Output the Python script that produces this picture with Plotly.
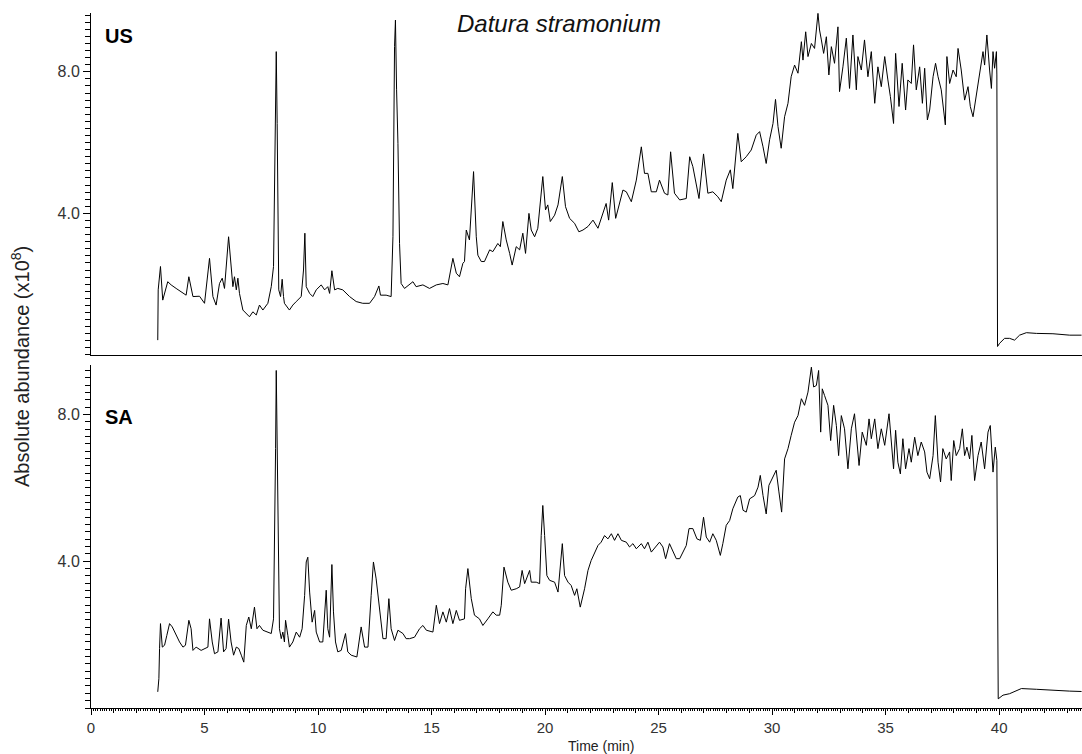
import plotly.graph_objects as go

# ---------------- data ----------------
US_time = [2.94, 2.96, 3.06, 3.16, 3.38, 3.53, 3.75, 4.05, 4.19, 4.31, 4.49, 4.78, 5.00, 5.22, 5.37, 5.51,
           5.66, 5.78, 5.88, 6.06, 6.17, 6.25, 6.32, 6.40, 6.47, 6.54, 6.69, 6.98, 7.13, 7.28, 7.42, 7.57,
           7.79, 7.94, 8.04, 8.08, 8.13, 8.16, 8.20, 8.23, 8.27, 8.35, 8.42, 8.48, 8.52, 8.74, 8.89, 9.04,
           9.26, 9.36, 9.42, 9.48, 9.63, 9.77, 9.92, 10.14, 10.29, 10.43, 10.51, 10.61, 10.73, 10.87, 11.09,
           11.39, 11.68, 11.97, 12.27, 12.49, 12.68, 12.75, 13.00, 13.22, 13.30, 13.37, 13.41, 13.46, 13.52,
           13.59, 13.66, 13.81, 14.03, 14.18, 14.32, 14.62, 14.91, 15.21, 15.50, 15.72, 15.94, 16.09, 16.23,
           16.38, 16.45, 16.53, 16.67, 16.85, 16.97, 17.04, 17.19, 17.33, 17.56, 17.70, 17.92, 18.03, 18.14,
           18.29, 18.44, 18.55, 18.73, 18.88, 19.02, 19.14, 19.29, 19.39, 19.54, 19.68, 19.90, 20.02, 20.12,
           20.23, 20.42, 20.57, 20.76, 20.90, 21.08, 21.30, 21.49, 21.67, 21.89, 22.11, 22.33, 22.55, 22.69,
           22.80, 22.96, 23.11, 23.25, 23.43, 23.58, 23.80, 24.02, 24.24, 24.38, 24.53, 24.68, 24.90, 25.04,
           25.26, 25.41, 25.53, 25.70, 25.93, 26.22, 26.37, 26.51, 26.78, 26.98, 27.17, 27.39, 27.61, 27.76,
           27.98, 28.16, 28.27, 28.49, 28.64, 28.86, 29.08, 29.30, 29.45, 29.60, 29.74, 29.89, 30.04, 30.15,
           30.26, 30.40, 30.55, 30.70, 30.84, 30.99, 31.14, 31.29, 31.36, 31.48, 31.58, 31.73, 31.87, 32.02,
           32.09, 32.17, 32.27, 32.39, 32.50, 32.61, 32.75, 32.90, 32.97, 33.12, 33.27, 33.41, 33.56, 33.71,
           33.78, 33.93, 34.07, 34.22, 34.37, 34.52, 34.66, 34.81, 34.96, 35.10, 35.21, 35.35, 35.44, 35.59,
           35.73, 35.88, 35.98, 36.13, 36.23, 36.35, 36.50, 36.62, 36.72, 36.84, 36.94, 37.09, 37.20, 37.31,
           37.45, 37.63, 37.70, 37.82, 37.97, 38.11, 38.19, 38.33, 38.48, 38.63, 38.73, 38.85, 38.99, 39.14,
           39.29, 39.36, 39.46, 39.58, 39.66, 39.73, 39.80, 39.88, 39.90, 39.93, 40.02, 40.24, 40.46, 40.68,
           40.90, 41.20, 41.64, 42.37, 43.11, 43.63]
US_abund = [0.42, 1.84, 2.50, 1.55, 2.07, 1.98, 1.88, 1.74, 1.69, 2.21, 1.65, 1.66, 1.46, 2.73, 1.65, 1.41,
            2.02, 2.17, 1.88, 3.34, 2.59, 1.93, 2.21, 1.84, 2.17, 1.74, 1.27, 1.08, 1.22, 1.13, 1.41, 1.27,
            1.46, 1.93, 2.50, 4.19, 6.54, 8.57, 6.54, 4.19, 1.84, 1.65, 2.14, 1.65, 1.46, 1.27, 1.41, 1.51,
            1.65, 2.40, 3.44, 1.93, 1.74, 1.65, 1.84, 1.98, 1.84, 1.93, 1.74, 2.38, 1.84, 1.88, 1.84,
            1.65, 1.51, 1.46, 1.46, 1.65, 1.95, 1.69, 1.69, 1.65, 3.34, 8.71, 9.46, 7.49, 5.98,
            3.15, 2.02, 1.88, 1.98, 2.07, 1.93, 1.98, 1.88, 1.98, 2.02, 1.98, 2.73, 2.31, 2.21,
            2.59, 2.64, 3.53, 3.25, 5.18, 3.34, 2.82, 2.64, 2.64, 2.97, 2.92, 3.15, 3.06, 3.77,
            3.25, 2.87, 2.54, 3.06, 2.97, 3.44, 2.87, 4.00, 3.53, 3.34, 3.58, 5.04, 4.10, 4.24,
            3.77, 3.95, 4.24, 5.04, 4.19, 3.86, 3.72, 3.48, 3.53, 3.63, 3.81, 3.58, 4.00, 4.28,
            3.81, 4.87, 3.86, 4.19, 4.66, 4.61, 4.33, 4.94, 5.88, 5.13, 5.13, 4.61, 4.61, 4.94,
            4.57, 4.52, 5.74, 4.57, 4.38, 4.42, 5.60, 5.32, 4.42, 5.68, 4.57, 4.61, 4.47, 4.33,
            4.94, 5.23, 4.70, 6.26, 5.46, 5.60, 5.79, 6.21, 6.31, 5.88, 5.41, 6.08, 6.54, 7.22,
            6.45, 5.84, 6.73, 7.11, 7.86, 8.19, 7.96, 8.85, 8.33, 9.13, 8.43, 8.80, 8.66, 9.65,
            9.18, 8.90, 8.52, 8.99, 7.91, 8.71, 8.24, 9.27, 7.44, 8.14, 8.95, 7.53, 9.04, 7.49,
            8.43, 8.05, 8.90, 7.86, 8.57, 7.11, 8.14, 7.58, 8.43, 7.77, 7.30, 6.54, 8.52, 7.02,
            8.24, 6.92, 7.77, 7.67, 8.76, 7.49, 8.14, 7.11, 8.10, 6.64, 6.92, 7.86, 8.24, 7.86,
            7.49, 6.50, 8.43, 7.67, 8.05, 7.86, 8.66, 8.05, 7.20, 7.58, 7.02, 6.73, 7.30, 7.96,
            8.57, 8.19, 9.04, 8.05, 7.53, 8.57, 8.10, 8.57, 7.91, 0.24, 0.33, 0.47, 0.47, 0.42,
            0.56, 0.63, 0.61, 0.60, 0.56, 0.56]

SA_time = [2.94, 2.99, 3.02, 3.06, 3.14, 3.24, 3.34, 3.46, 3.58, 3.75, 3.90, 4.05, 4.16, 4.31, 4.41, 4.49,
           4.63, 4.85, 5.07, 5.15, 5.22, 5.34, 5.44, 5.59, 5.73, 5.84, 5.95, 6.06, 6.17, 6.28, 6.40, 6.51,
           6.62, 6.73, 6.84, 6.95, 7.06, 7.20, 7.31, 7.42, 7.57, 7.79, 7.94, 8.04, 8.08, 8.13, 8.16, 8.20,
           8.25, 8.30, 8.38, 8.45, 8.52, 8.57, 8.67, 8.74, 8.89, 9.04, 9.19, 9.30, 9.41, 9.48, 9.55, 9.63,
           9.74, 9.85, 9.92, 10.07, 10.21, 10.29, 10.36, 10.43, 10.51, 10.61, 10.68, 10.77, 10.87, 11.02,
           11.09, 11.21, 11.31, 11.46, 11.71, 11.90, 12.05, 12.20, 12.34, 12.44, 12.56, 12.71, 12.86, 13.00,
           13.12, 13.22, 13.37, 13.52, 13.74, 13.88, 14.03, 14.25, 14.47, 14.62, 14.77, 15.06, 15.21, 15.35,
           15.50, 15.65, 15.79, 15.94, 16.09, 16.23, 16.45, 16.50, 16.60, 16.75, 16.89, 17.11, 17.26, 17.48,
           17.70, 17.85, 18.00, 18.07, 18.19, 18.36, 18.51, 18.73, 18.88, 18.99, 19.10, 19.32, 19.39, 19.61,
           19.76, 19.83, 19.90, 19.98, 20.08, 20.20, 20.42, 20.57, 20.67, 20.76, 20.86, 21.01, 21.15, 21.30,
           21.40, 21.55, 21.74, 21.89, 22.03, 22.18, 22.33, 22.47, 22.62, 22.77, 22.92, 23.06, 23.21, 23.36,
           23.58, 23.72, 23.87, 24.02, 24.24, 24.38, 24.53, 24.68, 24.90, 25.04, 25.19, 25.31, 25.48, 25.63,
           25.78, 25.93, 26.07, 26.22, 26.34, 26.51, 26.69, 26.84, 26.98, 27.10, 27.25, 27.39, 27.54, 27.72,
           27.83, 27.98, 28.13, 28.27, 28.49, 28.60, 28.72, 28.86, 29.01, 29.23, 29.38, 29.48, 29.60, 29.74,
           29.86, 30.01, 30.18, 30.30, 30.42, 30.55, 30.70, 30.84, 30.99, 31.14, 31.29, 31.43, 31.58, 31.73,
           31.83, 31.95, 32.05, 32.14, 32.21, 32.31, 32.46, 32.58, 32.71, 32.83, 32.93, 33.05, 33.19, 33.34,
           33.49, 33.63, 33.74, 33.83, 33.97, 34.15, 34.27, 34.37, 34.52, 34.66, 34.81, 34.96, 35.15, 35.25,
           35.35, 35.44, 35.54, 35.65, 35.76, 35.88, 36.03, 36.13, 36.28, 36.42, 36.57, 36.72, 36.82, 36.94,
           37.09, 37.19, 37.31, 37.42, 37.52, 37.67, 37.82, 37.89, 38.00, 38.11, 38.26, 38.38, 38.48, 38.58,
           38.70, 38.80, 38.92, 39.07, 39.21, 39.36, 39.51, 39.61, 39.73, 39.83, 39.90, 39.96, 40.17, 40.46,
           40.76, 40.98, 41.64, 42.37, 43.11, 43.63]
SA_abund = [0.44, 0.80, 1.62, 2.30, 1.66, 1.71, 1.98, 2.30, 2.21, 1.98, 1.80, 1.66, 1.71, 2.39, 2.16, 1.57,
            1.66, 1.57, 1.62, 1.66, 2.43, 1.80, 1.48, 1.53, 2.45, 1.53, 1.62, 2.42, 1.80, 1.44, 1.66, 1.62,
            1.44, 1.25, 2.25, 2.48, 2.16, 2.75, 2.16, 2.25, 2.12, 2.07, 2.03, 2.43, 3.98, 7.07, 9.20, 6.70,
            4.07, 2.16, 1.89, 2.07, 1.80, 2.39, 1.98, 1.66, 1.80, 2.07, 1.93, 2.16, 3.07, 3.98, 4.11, 3.16,
            2.34, 2.66, 2.07, 1.80, 1.80, 2.53, 3.21, 2.16, 1.93, 3.91, 2.62, 1.80, 1.53, 1.57,
            1.75, 2.03, 1.53, 1.44, 1.39, 2.21, 1.66, 1.66, 3.07, 3.98, 3.52, 2.62, 1.89, 1.89,
            2.98, 2.16, 1.84, 2.12, 2.03, 1.89, 1.89, 1.93, 2.16, 2.25, 2.12, 2.07, 2.80, 2.30,
            2.62, 2.34, 2.71, 2.30, 2.66, 2.39, 2.43, 3.25, 3.80, 2.98, 2.53, 2.43, 2.25, 2.43,
            2.62, 2.53, 2.53, 2.80, 3.84, 3.43, 3.21, 3.25, 3.30, 3.75, 3.39, 3.75, 3.43, 3.43,
            3.39, 4.70, 5.52, 4.70, 3.61, 3.48, 3.43, 3.16, 3.98, 4.48, 3.61, 3.43, 3.34, 3.07,
            3.25, 2.75, 3.25, 3.75, 4.02, 4.21, 4.43, 4.52, 4.70, 4.61, 4.75, 4.57, 4.75, 4.57,
            4.52, 4.39, 4.48, 4.34, 4.48, 4.34, 4.52, 4.25, 4.43, 4.52, 4.39, 4.07, 4.48, 4.25,
            4.07, 4.07, 4.25, 4.43, 4.89, 4.89, 4.61, 4.57, 5.20, 4.66, 4.52, 4.75, 4.57, 4.16,
            4.48, 4.98, 5.11, 5.43, 5.75, 5.79, 5.39, 5.34, 5.70, 5.79, 6.02, 6.34, 5.79, 5.29,
            6.07, 6.25, 6.48, 5.89, 5.34, 6.79, 7.07, 7.43, 7.79, 7.97, 8.43, 8.25, 8.61, 9.29,
            8.75, 8.79, 9.20, 7.52, 8.70, 8.52, 8.25, 7.29, 8.25, 7.70, 6.88, 7.97, 7.61, 6.52,
            7.61, 8.02, 7.34, 6.61, 7.52, 7.16, 7.88, 7.34, 7.88, 7.07, 7.61, 7.16, 8.02, 7.16,
            6.52, 7.57, 6.70, 6.38, 7.34, 6.52, 7.07, 6.70, 7.38, 6.88, 7.25, 6.98, 6.43, 6.25,
            6.88, 7.97, 6.70, 6.16, 7.07, 6.79, 6.98, 6.20, 7.29, 6.88, 7.07, 7.61, 6.88, 7.11,
            6.79, 7.43, 6.20, 6.88, 7.25, 6.52, 7.52, 7.70, 6.43, 7.11, 6.75, 0.25, 0.35, 0.39,
            0.48, 0.53, 0.51, 0.48, 0.46, 0.45]

X_MAX = 43.65
US_YMAX = 9.66
SA_YMAX = 9.35
y_tick_vals = [4.0, 8.0]
y_tick_text = ["4.0", "8.0"]

FONT = "Liberation Sans, Arial, sans-serif"

fig = go.Figure()
fig.add_trace(go.Scatter(x=US_time, y=US_abund, xaxis="x", yaxis="y", mode="lines",
                         line=dict(color="black", width=1), hoverinfo="skip", showlegend=False))
fig.add_trace(go.Scatter(x=SA_time, y=SA_abund, xaxis="x2", yaxis="y2", mode="lines",
                         line=dict(color="black", width=1), hoverinfo="skip", showlegend=False))
# carrier for the fine (0.1 min) tick axis of the bottom panel
fig.add_trace(go.Scatter(x=[], y=[], xaxis="x3", yaxis="y2", mode="lines",
                         hoverinfo="skip", showlegend=False))

def y_axis(domain, anchor, ymax):
    return dict(domain=domain, anchor=anchor, range=[0, ymax], showline=True, linecolor="black",
                linewidth=1, ticks="outside", ticklen=7, tickwidth=1, tickcolor="black",
                tickmode="array", tickvals=y_tick_vals, ticktext=y_tick_text,
                tickfont=dict(family=FONT, size=16, color="#333333"),
                showgrid=False, zeroline=False,
                minor=dict(tickmode="linear", tick0=0, dtick=0.2, ticks="outside", ticklen=5,
                           tickwidth=1, tickcolor="black", showgrid=False))

fig.update_layout(
    width=1082, height=754,
    margin=dict(l=91, r=0, t=0, b=46),
    paper_bgcolor="white", plot_bgcolor="white",
    font=dict(family=FONT, color="black"),
    xaxis=dict(domain=[0, 1], anchor="y", range=[0, X_MAX], showline=True, linecolor="black",
               linewidth=1, ticks="", showticklabels=False, showgrid=False, zeroline=False),
    yaxis=y_axis([0.4986, 0.9816], "x", US_YMAX),
    xaxis2=dict(domain=[0, 1], anchor="y2", range=[0, X_MAX], showline=True, linecolor="black",
                linewidth=1, ticks="outside", ticklen=6, tickwidth=1, tickcolor="black",
                tickmode="linear", tick0=0, dtick=5,
                tickfont=dict(family=FONT, size=15, color="#333333"),
                showgrid=False, zeroline=False,
                minor=dict(tickmode="linear", tick0=0, dtick=1, ticks="outside", ticklen=4,
                           tickwidth=1, tickcolor="black", showgrid=False)),
    xaxis3=dict(overlaying="x2", anchor="y2", side="bottom", range=[0, X_MAX], showline=False,
                ticks="outside", ticklen=2, tickwidth=1, tickcolor="black",
                tickmode="linear", tick0=0, dtick=0.1, showticklabels=False,
                showgrid=False, zeroline=False),
    yaxis2=y_axis([0, 0.4845], "x2", SA_YMAX),
)

annotations = [
    dict(text="<i>Datura stramonium</i>", x=0.4723, y=0.9675, font=dict(size=24, color="#111111")),
    dict(text="<b>US</b>", x=0.0121, y=0.949, xanchor="left", font=dict(size=20, color="black")),
    dict(text="<b>SA</b>", x=0.0121, y=0.4117, xanchor="left", font=dict(size=20, color="black")),
    dict(text="Time (min)", x=0.515, y=-0.0532, font=dict(size=14, color="#222222")),
    dict(text="Absolute abundance (x10<sup>8</sup>)", x=-0.0716, y=0.4816, textangle=-90,
         font=dict(size=20, color="#222222")),
]
for a in annotations:
    a.setdefault("xanchor", "center")
    a.update(xref="paper", yref="paper", yanchor="middle", showarrow=False)
fig.update_layout(annotations=annotations)

fig.write_html("out.html", config={"displayModeBar": False},
               post_script="document.body.style.margin='0';document.body.style.overflow='hidden';")
